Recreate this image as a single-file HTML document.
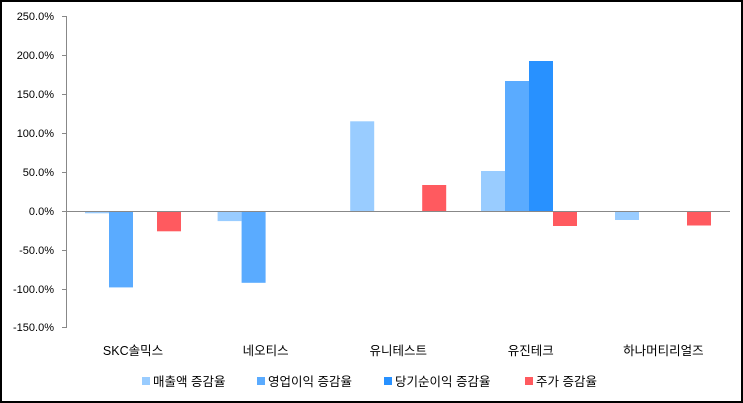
<!DOCTYPE html>
<html><head><meta charset="utf-8"><style>
html,body{margin:0;padding:0;background:#fff}
svg{display:block}
text{font-family:"Liberation Sans","Noto Sans CJK KR",sans-serif;font-size:11px;fill:#000}
.b{font-size:12.5px}
</style></head><body>
<svg width="743" height="403" viewBox="0 0 743 403">
<rect x="1" y="1" width="741" height="401" fill="#fff" stroke="#000" stroke-width="2"/>
<g id="bars">
<rect x="85" y="211" width="24" height="2.3" fill="#99ccff"/>
<rect x="109" y="211" width="24" height="76.4" fill="#5aabff"/>
<rect x="157" y="211" width="24" height="20.3" fill="#ff5a5f"/>
<rect x="217.6" y="211" width="24" height="10.1" fill="#99ccff"/>
<rect x="241.6" y="211" width="24" height="71.8" fill="#5aabff"/>
<rect x="350.2" y="121.3" width="24" height="89.7" fill="#99ccff"/>
<rect x="422.2" y="185" width="24" height="26" fill="#ff5a5f"/>
<rect x="481" y="171" width="24" height="40" fill="#99ccff"/>
<rect x="505" y="81" width="24" height="130" fill="#5aabff"/>
<rect x="529" y="61" width="24" height="150" fill="#2891ff"/>
<rect x="553" y="211" width="24" height="15" fill="#ff5a5f"/>
<rect x="615" y="211" width="24" height="9" fill="#99ccff"/>
<rect x="687" y="211" width="24" height="14.5" fill="#ff5a5f"/>
</g>
<g stroke="#888" stroke-width="1" fill="none">
<line x1="66.5" y1="16" x2="66.5" y2="328"/>
<line x1="66" y1="211.5" x2="730" y2="211.5"/>
<line x1="62" y1="16.5" x2="67" y2="16.5"/>
<line x1="62" y1="55.5" x2="67" y2="55.5"/>
<line x1="62" y1="94.5" x2="67" y2="94.5"/>
<line x1="62" y1="133.5" x2="67" y2="133.5"/>
<line x1="62" y1="172.5" x2="67" y2="172.5"/>
<line x1="62" y1="211.5" x2="67" y2="211.5"/>
<line x1="62" y1="250.5" x2="67" y2="250.5"/>
<line x1="62" y1="289.5" x2="67" y2="289.5"/>
<line x1="62" y1="327.5" x2="67" y2="327.5"/>
</g>
<g text-anchor="end">
<text x="54" y="20">250.0%</text>
<text x="54" y="59">200.0%</text>
<text x="54" y="98">150.0%</text>
<text x="54" y="137">100.0%</text>
<text x="54" y="176">50.0%</text>
<text x="54" y="215">0.0%</text>
<text x="54" y="254">-50.0%</text>
<text x="54" y="293">-100.0%</text>
<text x="54" y="331">-150.0%</text>
</g>
<g text-anchor="middle" class="b">
<text class="b" x="133" y="355">SKC솔믹스</text>
<text class="b" x="265.6" y="355">네오티스</text>
<text class="b" x="398.2" y="355">유니테스트</text>
<text class="b" x="530.8" y="355">유진테크</text>
<text class="b" x="663.4" y="355">하나머티리얼즈</text>
</g>
<rect x="142" y="377" width="8" height="8" fill="#99ccff"/>
<text class="b" x="153" y="386">매출액 증감율</text>
<rect x="257" y="377" width="8" height="8" fill="#5aabff"/>
<text class="b" x="268" y="386">영업이익 증감율</text>
<rect x="384" y="377" width="8" height="8" fill="#2891ff"/>
<text class="b" x="395" y="386">당기순이익 증감율</text>
<rect x="525" y="377" width="8" height="8" fill="#ff5a5f"/>
<text class="b" x="536" y="386">주가 증감율</text>
</svg>
</body></html>
